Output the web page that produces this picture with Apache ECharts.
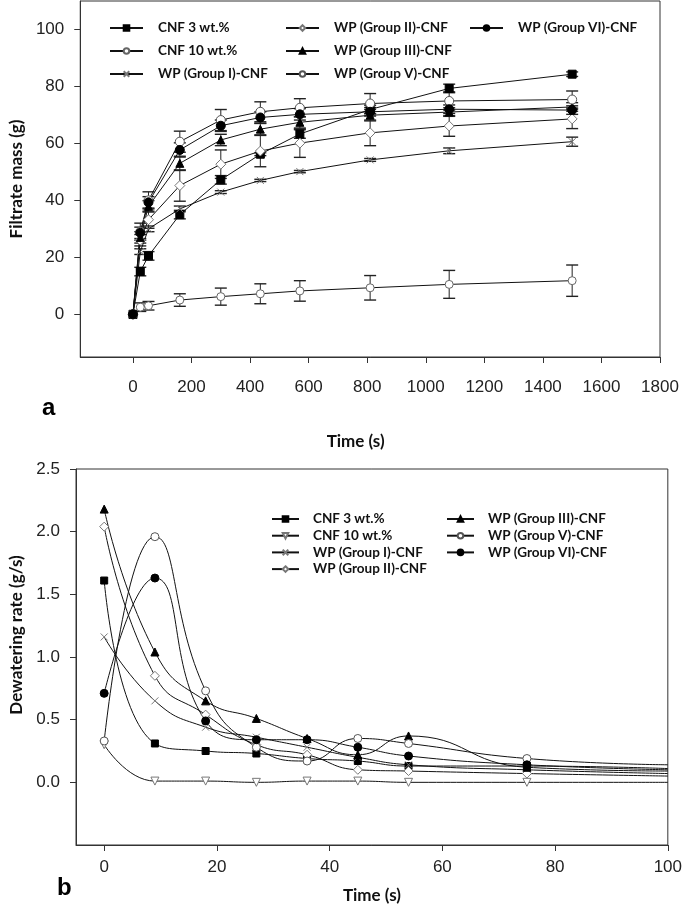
<!DOCTYPE html>
<html><head><meta charset="utf-8">
<script src="https://cdn.jsdelivr.net/npm/echarts@6/dist/echarts.min.js"></script>
<style>html,body{margin:0;padding:0;background:#fff}#a{position:absolute;left:0;top:0;width:685px;height:455px}#b{position:absolute;left:0;top:455px;width:685px;height:455px}</style>
</head><body><div id="a"></div><div id="b"></div>
<script>
// ---------- Panel a : Filtrate mass (g) vs Time (s) ----------
const timeA = [0, 25, 53, 160, 300, 435, 570, 810, 1080, 1500];
const a_cnf3 = [0, 15, 20.5, 35, 47.2, 56.2, 63.3, 71.9, 79.3, 84.3];
const a_cnf3_err = [0, 1.5, 1.5, 1.5, 1.5, 0.5, 1.5, 1.5, 1.5, 0.8];
const a_cnf10 = [0, 2.5, 3, 5, 6.2, 7.2, 8.2, 9.3, 10.5, 11.8];
const a_cnf10_err = [0, 1.5, 1.5, 2.2, 3, 3.5, 3.6, 4.3, 4.9, 5.5];
const a_g1 = [0, 22, 30, 37, 42.9, 47, 50.1, 54.2, 57.4, 60.6];
const a_g1_err = [0, 1, 1, 1, 0.5, 0.4, 0.4, 0.5, 1, 1.6];
const a_g2 = [0, 26, 33.2, 45.2, 52.7, 57.3, 60.1, 63.7, 66.1, 68.6];
const a_g2_err = [0, 2, 3, 5.5, 5, 5.5, 5, 4.5, 3.6, 3.4];
const a_g3 = [0, 27, 37.9, 53, 61.2, 65, 67.4, 69.9, 71, 72.8];
const a_g3_err = [0, 2, 2, 2.5, 2, 2, 2, 2, 1.5, 1.5];
const a_g5 = [0, 29, 40, 60.6, 68.2, 71.1, 72.5, 74, 74.9, 75.4];
const a_g5_err = [0, 3, 3, 3.7, 3.7, 3.5, 3.2, 3.5, 3.2, 3];
const a_g6 = [0, 28.6, 39.3, 57.7, 66.2, 69.1, 70.2, 71.1, 72, 71.7];
const a_g6_err = [0, 2, 2, 2.5, 2, 2, 2, 1.5, 1.5, 1.5];
const a_xTicks = [0, 200, 400, 600, 800, 1000, 1200, 1400, 1600, 1800];
const a_yTicks = [0, 20, 40, 60, 80, 100];

// ---------- Panel b : Dewatering rate (g/s) vs Time (s) ----------
const timeB = [0, 9, 18, 27, 36, 45, 54, 75, 100];
const b_cnf3 = [1.61, 0.31, 0.25, 0.23, 0.19, 0.17, 0.13, 0.13, 0.11];
const b_cnf10 = [0.30, 0.01, 0.01, 0.0, 0.01, 0.01, 0.0, 0.0, 0.0];
const b_g1 = [1.16, 0.65, 0.44, 0.36, 0.28, 0.2, 0.14, 0.1, 0.07];
const b_g2 = [2.04, 0.85, 0.54, 0.3, 0.22, 0.1, 0.09, 0.07, 0.05];
const b_g3 = [2.18, 1.04, 0.65, 0.51, 0.35, 0.22, 0.37, 0.12, 0.09];
const b_g5 = [0.33, 1.96, 0.73, 0.28, 0.17, 0.35, 0.31, 0.19, 0.14];
const b_g6 = [0.71, 1.63, 0.49, 0.34, 0.34, 0.28, 0.21, 0.14, 0.1];
const b_xTicks = [0, 20, 40, 60, 80, 100];
const b_yTicks = [0, 0.5, 1.0, 1.5, 2.0, 2.5];

const NAMES = ['CNF 3 wt.%', 'CNF 10 wt.%', 'WP (Group I)-CNF', 'WP (Group II)-CNF', 'WP (Group III)-CNF', 'WP (Group V)-CNF', 'WP (Group VI)-CNF'];
const XPATH = 'path://M0,0L10,10M10,0L0,10';
const DOWNTRI = 'path://M0,0L10,0L5,9Z';
const TICKFONT = {fontFamily: 'Liberation Sans, Arial, sans-serif', fontSize: 17, color: '#222'};
const NAMEFONT = {fontFamily: 'Lato, Open Sans, sans-serif', fontWeight: 'bold', fontSize: 17, color: '#111'};
const LEGFONT = {fontFamily: 'Lato, Open Sans, sans-serif', fontWeight: 'bold', fontSize: 13.5, color: '#111'};

function lineSeries(name, xs, ys, sym, size, fill, border, extra) {
  const data = xs.map((t, i) => [t, ys[i]]);
  return Object.assign({
    name, type: 'line', data, symbol: sym, symbolSize: size, showAllSymbol: true,
    lineStyle: {color: '#111', width: 1},
    itemStyle: {color: fill, borderColor: border, borderWidth: 1},
    emphasis: {disabled: true}, z: 3
  }, extra || {});
}
function errSeries(xs, ys, es) {
  return {
    type: 'custom', silent: true, z: 2,
    data: xs.map((t, i) => [t, ys[i], es[i]]),
    encode: {x: 0, y: 1},
    renderItem: function (params, api) {
      const xv = api.value(0), yv = api.value(1), ev = api.value(2);
      if (!ev) return null;
      const top = api.coord([xv, yv + ev]), bot = api.coord([xv, yv - ev]);
      const hw = 6, st = {stroke: '#222', lineWidth: 1.4};
      return {type: 'group', children: [
        {type: 'line', shape: {x1: top[0], y1: top[1], x2: bot[0], y2: bot[1]}, style: {stroke: '#222', lineWidth: 1}},
        {type: 'line', shape: {x1: top[0] - hw, y1: top[1], x2: top[0] + hw, y2: top[1]}, style: st},
        {type: 'line', shape: {x1: bot[0] - hw, y1: bot[1], x2: bot[0] + hw, y2: bot[1]}, style: st}
      ]};
    }
  };
}
function legend(left, top, names, gap, ih, pad) {
  return {
    left, top, orient: 'vertical', data: names, itemWidth: ih.w, itemHeight: ih.h, itemGap: gap,
    selectedMode: false,
    textStyle: Object.assign({lineHeight: ih.lh, padding: [0, 0, 0, pad]}, LEGFONT)
  };
}
const axisLineStyle = {show: true, onZero: false, lineStyle: {color: '#333'}};

// ---------- chart a ----------
const ca = echarts.init(document.getElementById('a'), null, {renderer: 'canvas'});
ca.setOption({
  animation: false,
  grid: {left: 79, right: 25, top: 1, bottom: 98, show: true, borderColor: '#333', borderWidth: 1},
  legend: [
    legend(104, 15, NAMES.slice(0, 3), 7, {w: 33, h: 7, lh: 16}, 10),
    legend(280, 15, NAMES.slice(3, 6), 7, {w: 33, h: 7, lh: 16}, 10),
    legend(464, 15, NAMES.slice(6, 7), 7, {w: 33, h: 7, lh: 16}, 10)
  ],
  xAxis: {
    type: 'value', min: -180, max: 1800,
    name: 'Time (s)', nameLocation: 'middle', nameGap: 76,
    nameTextStyle: Object.assign({padding: [0, 29, 0, 0]}, NAMEFONT),
    axisLine: axisLineStyle,
    axisTick: {show: true, length: 6, customValues: a_xTicks, lineStyle: {color: '#333'}},
    axisLabel: Object.assign({customValues: a_xTicks, margin: 22, formatter: v => String(v)}, TICKFONT),
    splitLine: {show: false}
  },
  yAxis: {
    type: 'value', min: -15, max: 110,
    name: 'Filtrate mass (g)', nameLocation: 'middle', nameGap: 52, nameRotate: 90,
    nameTextStyle: NAMEFONT,
    axisLine: axisLineStyle,
    axisTick: {show: true, length: 6, customValues: a_yTicks, lineStyle: {color: '#333'}},
    axisLabel: Object.assign({customValues: a_yTicks, margin: 16, formatter: v => String(v)}, TICKFONT),
    splitLine: {show: false}
  },
  graphic: [{type: 'text', left: 42, top: 396, style: {text: 'a', font: 'bold 24px Liberation Sans, Arial', fill: '#000'}}],
  series: [
    lineSeries(NAMES[0], timeA, a_cnf3, 'rect', 8, '#000', '#000'),
    lineSeries(NAMES[1], timeA, a_cnf10, 'circle', 8, '#fff', '#666'),
    lineSeries(NAMES[2], timeA, a_g1, XPATH, 7, 'transparent', '#777'),
    lineSeries(NAMES[3], timeA, a_g2, 'diamond', 10, '#fff', '#777'),
    lineSeries(NAMES[4], timeA, a_g3, 'triangle', 8, '#000', '#000'),
    lineSeries(NAMES[5], timeA, a_g5, 'circle', 9, '#fff', '#555'),
    lineSeries(NAMES[6], timeA, a_g6, 'circle', 9, '#000', '#000'),
    errSeries(timeA, a_cnf3, a_cnf3_err),
    errSeries(timeA, a_cnf10, a_cnf10_err),
    errSeries(timeA, a_g1, a_g1_err),
    errSeries(timeA, a_g2, a_g2_err),
    errSeries(timeA, a_g3, a_g3_err),
    errSeries(timeA, a_g5, a_g5_err),
    errSeries(timeA, a_g6, a_g6_err)
  ]
});

// ---------- chart b ----------
const cb = echarts.init(document.getElementById('b'), null, {renderer: 'canvas'});
function bLine(name, ys, sym, size, fill, border) {
  const s = lineSeries(name, timeB, ys, sym, size, fill, border, {smooth: 0.5});
  s.data = timeB.map((t, i) => i === timeB.length - 1 ? {value: [t, ys[i]], symbol: 'none'} : [t, ys[i]]);
  return s;
}
cb.setOption({
  animation: false,
  grid: {left: 76, right: 15, top: 14, bottom: 65, show: true, borderColor: '#333', borderWidth: 1},
  legend: [
    legend(266, 52, ['CNF 3 wt.%', 'CNF 10 wt.%', 'WP (Group I)-CNF', 'WP (Group II)-CNF'], 2.7, {w: 27, h: 7, lh: 14}, 9),
    legend(441, 52, ['WP (Group III)-CNF', 'WP (Group V)-CNF', 'WP (Group VI)-CNF'], 2.7, {w: 27, h: 7, lh: 14}, 9)
  ],
  xAxis: {
    type: 'value', min: -5, max: 100,
    name: 'Time (s)', nameLocation: 'middle', nameGap: 42,
    nameTextStyle: NAMEFONT,
    axisLine: axisLineStyle,
    axisTick: {show: true, length: 6, customValues: b_xTicks, lineStyle: {color: '#333'}},
    axisLabel: Object.assign({customValues: b_xTicks, margin: 14, formatter: v => String(v)}, TICKFONT),
    splitLine: {show: false}
  },
  yAxis: {
    type: 'value', min: -0.5, max: 2.5,
    axisLine: axisLineStyle,
    axisTick: {show: true, length: 6, customValues: b_yTicks, lineStyle: {color: '#333'}},
    axisLabel: Object.assign({customValues: b_yTicks, margin: 16, formatter: v => v.toFixed(1)}, TICKFONT),
    splitLine: {show: false}
  },
  graphic: [
    {type: 'text', left: 57, top: 421, style: {text: 'b', font: 'bold 24px Liberation Sans, Arial', fill: '#000'}},
    {type: 'text', x: 17, y: 180, rotation: Math.PI / 2,
     style: {text: 'Dewatering rate (g/s)', font: 'bold 17px Lato, Open Sans, sans-serif', fill: '#111', align: 'center', verticalAlign: 'middle'}}
  ],
  series: [
    bLine(NAMES[0], b_cnf3, 'rect', 7, '#000', '#000'),
    bLine(NAMES[1], b_cnf10, DOWNTRI, 8, '#fff', '#777'),
    bLine(NAMES[2], b_g1, XPATH, 7, 'transparent', '#777'),
    bLine(NAMES[3], b_g2, 'diamond', 9, '#fff', '#777'),
    bLine(NAMES[4], b_g3, 'triangle', 8, '#000', '#000'),
    bLine(NAMES[5], b_g5, 'circle', 8, '#fff', '#555'),
    bLine(NAMES[6], b_g6, 'circle', 8, '#000', '#000')
  ]
});
</script>
</body></html>
